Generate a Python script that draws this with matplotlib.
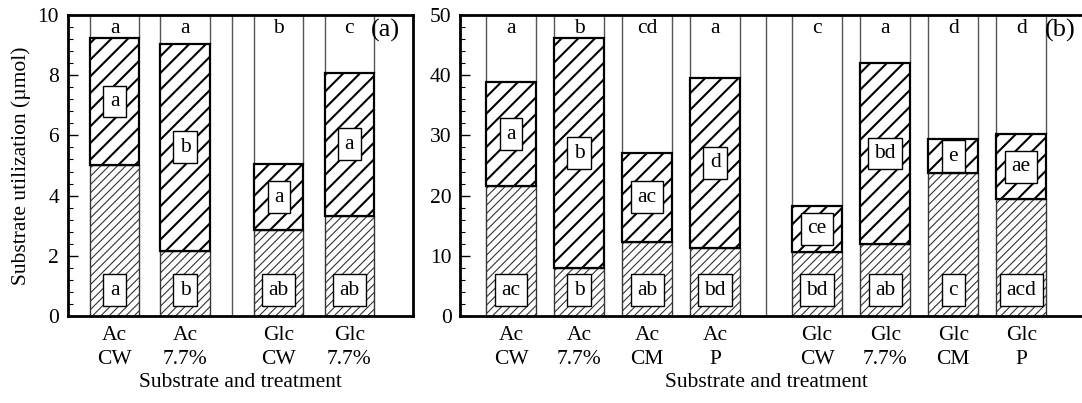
import matplotlib
matplotlib.use("Agg")
import matplotlib.pyplot as plt

# === Data ===
left_labels = ["Ac\nCW", "Ac\n7.7%", "Glc\nCW", "Glc\n7.7%"]
left_low = [5.0, 2.15, 2.85, 3.33]
left_mid = [4.25, 6.9, 2.2, 4.75]
left_top_letters = ["a", "a", "b", "c"]
left_mid_letters = ["a", "b", "a", "a"]
left_low_letters = ["a", "b", "ab", "ab"]

right_labels = ["Ac\nCW", "Ac\n7.7%", "Ac\nCM", "Ac\nP",
                "Glc\nCW", "Glc\n7.7%", "Glc\nCM", "Glc\nP"]
right_low = [21.6, 8.0, 12.3, 11.3, 10.7, 12.0, 23.7, 19.4]
right_mid = [17.2, 38.1, 14.8, 28.3, 7.6, 30.0, 5.7, 10.8]
right_top_letters = ["a", "b", "cd", "a", "c", "a", "d", "d"]
right_mid_letters = ["a", "b", "ac", "d", "ce", "bd", "e", "ae"]
right_low_letters = ["ac", "b", "ab", "bd", "bd", "ab", "c", "acd"]

plt.rcParams["font.family"] = ["Liberation Serif", "DejaVu Serif"]
plt.rcParams["font.size"] = 15.5

fig = plt.figure(figsize=(10.82, 4.03), dpi=100)
ax1 = fig.add_axes([67.5 / 1082, 87 / 403, 345.5 / 1082, 301 / 403])
ax2 = fig.add_axes([460 / 1082, 87 / 403, 630 / 1082, 301 / 403])

box = dict(boxstyle="square,pad=0.3", fc="white", ec="black", lw=1)


def draw_panel(ax, x, low, mid, ymax, width, labels, top_l, mid_l, low_l, sep):
    total = [a + b for a, b in zip(low, mid)]
    white = [ymax - t for t in total]
    with plt.rc_context({"hatch.linewidth": 0.8, "hatch.color": "#222222"}):
        ax.bar(x, low, width, color="white", edgecolor="#333333", lw=1.0,
               hatch="////", zorder=2)
    with plt.rc_context({"hatch.linewidth": 1.5, "hatch.color": "black"}):
        ax.bar(x, mid, width, bottom=low, color="white", edgecolor="black",
               lw=1.6, hatch="//", zorder=3)
    ax.bar(x, white, width, bottom=total, color="white", edgecolor="#555555",
           lw=1.0, zorder=2)
    ax.axvline(sep, color="#555555", lw=1.0, zorder=1)

    for i in range(len(x)):
        ax.text(x[i], ymax * 0.955, top_l[i], ha="center", va="center", zorder=5)
        ax.text(x[i], low[i] + mid[i] / 2, mid_l[i], ha="center", va="center",
                bbox=box, zorder=5)
        ax.text(x[i], ymax * 0.086, low_l[i], ha="center", va="center",
                bbox=box, zorder=5)

    ax.set_ylim(0, ymax)
    ax.set_xticks(x)
    ax.set_xticklabels(labels, linespacing=1.35)
    ax.tick_params(axis="x", length=0, pad=7)
    ax.tick_params(axis="y", direction="in", length=7, width=1, pad=6)
    ax.tick_params(axis="y", which="minor", direction="in", length=3.5, width=0.8)
    for s in ax.spines.values():
        s.set_linewidth(2)


# === Panel (a) ===
x1 = [0, 1, 2.33, 3.33]
draw_panel(ax1, x1, left_low, left_mid, 10, 0.70, left_labels,
           left_top_letters, left_mid_letters, left_low_letters, 1.66)
ax1.set_xlim(-0.667, 4.233)
ax1.set_yticks(range(0, 11, 2))
ax1.set_yticks([i * 0.4 for i in range(26)], minor=True)
ax1.set_ylabel("Substrate utilization (µmol)")
ax1.yaxis.set_label_coords(-0.105, 0.5)
ax1.set_xlabel("Substrate and treatment")
ax1.xaxis.set_label_coords(0.5, -0.19)
ax1.text(0.92, 0.95, "(a)", transform=ax1.transAxes, fontsize=19,
         ha="center", va="center")

# === Panel (b) ===
x2 = [0, 1, 2, 3, 4.5, 5.5, 6.5, 7.5]
draw_panel(ax2, x2, right_low, right_mid, 50, 0.735, right_labels,
           right_top_letters, right_mid_letters, right_low_letters, 3.75)
ax2.set_xlim(-0.75, 8.51)
ax2.set_yticks(range(0, 51, 10))
ax2.set_yticks(range(0, 51, 2), minor=True)
ax2.set_xlabel("Substrate and treatment")
ax2.xaxis.set_label_coords(0.487, -0.19)
ax2.text(0.952, 0.95, "(b)", transform=ax2.transAxes, fontsize=19,
         ha="center", va="center")

fig.savefig("out.png", dpi=100)
